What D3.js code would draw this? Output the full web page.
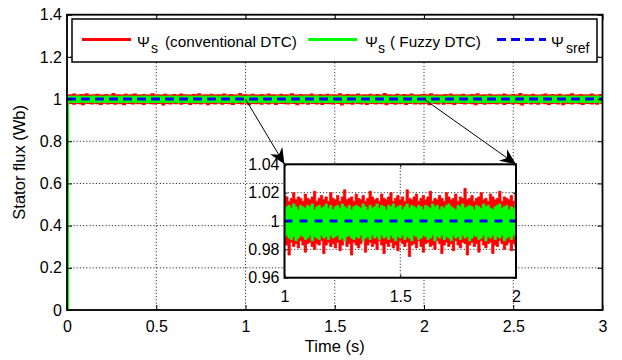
<!DOCTYPE html>
<html>
<head>
<meta charset="utf-8">
<script src="https://cdn.jsdelivr.net/npm/d3@7"></script>
<style>
  html, body { margin: 0; padding: 0; background: #fff; }
  svg { display: block; }
  text { font-family: "Liberation Sans", Arial, Helvetica, sans-serif; fill: #000; }
</style>
</head>
<body>
<svg id="chart" width="622" height="360"></svg>
<script>
// Stator flux, sampled every 10 ms from t = 0 s to t = 3 s (envelopes of the ripple band)
const sampleStep = 0.01;

// Conventional DTC: upper / lower envelope of the flux ripple (Wb)
const redHi = [0,
1.016,1.018,1.014,1.021,1.015,1.017,1.013,1.019,1.016,1.015,1.022,1.014,1.017,1.016,1.018,1.015,1.020,1.014,1.016,1.017,
1.015,1.019,1.016,1.014,1.017,1.023,1.015,1.016,1.018,1.014,1.017,1.015,1.020,1.016,1.014,1.018,1.016,1.021,1.015,1.017,
1.014,1.016,1.019,1.015,1.017,1.016,1.014,1.022,1.016,1.015,1.018,1.017,1.014,1.016,1.020,1.015,1.017,1.016,1.014,1.019,
1.016,1.015,1.017,1.021,1.014,1.016,1.018,1.015,1.017,1.014,1.019,1.016,1.015,1.022,1.017,1.015,1.016,1.018,1.014,1.017,
1.020,1.015,1.016,1.014,1.018,1.016,1.015,1.021,1.017,1.014,1.016,1.019,1.015,1.017,1.016,1.014,1.023,1.016,1.015,1.018,
1.017,1.014,1.016,1.020,1.015,1.017,1.016,1.014,1.019,1.016,1.015,1.017,1.021,1.014,1.016,1.018,1.015,1.017,1.014,1.020,
1.016,1.015,1.018,1.014,1.017,1.022,1.015,1.016,1.017,1.014,1.019,1.016,1.015,1.018,1.014,1.016,1.021,1.017,1.015,1.016,
1.014,1.019,1.016,1.015,1.017,1.020,1.014,1.016,1.018,1.015,1.017,1.014,1.022,1.016,1.015,1.017,1.019,1.014,1.016,1.018,
1.015,1.017,1.021,1.014,1.016,1.015,1.018,1.016,1.014,1.020,1.017,1.015,1.016,1.019,1.014,1.017,1.016,1.023,1.015,1.016,
1.018,1.014,1.016,1.017,1.020,1.015,1.016,1.014,1.019,1.017,1.015,1.016,1.021,1.014,1.017,1.016,1.015,1.018,1.014,1.020,
1.016,1.015,1.017,1.022,1.014,1.016,1.018,1.015,1.017,1.014,1.016,1.019,1.015,1.017,1.021,1.014,1.016,1.015,1.018,1.016,
1.014,1.020,1.016,1.015,1.017,1.014,1.019,1.016,1.015,1.022,1.017,1.014,1.016,1.018,1.015,1.016,1.020,1.014,1.017,1.016,
1.015,1.018,1.014,1.016,1.021,1.015,1.017,1.016,1.014,1.019,1.016,1.015,1.017,1.023,1.014,1.016,1.018,1.015,1.017,1.014,
1.020,1.016,1.015,1.017,1.014,1.018,1.016,1.021,1.015,1.016,1.014,1.019,1.017,1.015,1.016,1.020,1.014,1.017,1.016,1.015,
1.018,1.014,1.022,1.016,1.015,1.017,1.014,1.019,1.016,1.015,1.018,1.014,1.017,1.021,1.016,1.015,1.017,1.014,1.019,1.016];

const redLo = [0,
0.984,0.982,0.986,0.978,0.983,0.985,0.981,0.984,0.976,0.983,0.985,0.982,0.984,0.979,0.986,0.983,0.981,0.984,0.977,0.985,
0.983,0.985,0.980,0.984,0.982,0.986,0.978,0.983,0.985,0.981,0.984,0.976,0.983,0.985,0.982,0.984,0.979,0.986,0.983,0.981,
0.985,0.982,0.977,0.984,0.983,0.986,0.981,0.984,0.979,0.985,0.982,0.984,0.983,0.975,0.985,0.982,0.984,0.980,0.986,0.983,
0.981,0.984,0.985,0.978,0.983,0.982,0.986,0.984,0.977,0.983,0.985,0.981,0.984,0.982,0.979,0.986,0.983,0.984,0.976,0.985,
0.982,0.984,0.980,0.985,0.983,0.986,0.978,0.984,0.982,0.985,0.981,0.983,0.977,0.984,0.986,0.982,0.983,0.979,0.985,0.984,
0.983,0.976,0.985,0.982,0.984,0.981,0.986,0.983,0.978,0.984,0.985,0.982,0.980,0.984,0.983,0.986,0.977,0.983,0.985,0.982,
0.984,0.981,0.985,0.979,0.983,0.986,0.982,0.984,0.976,0.985,0.983,0.981,0.984,0.986,0.978,0.983,0.985,0.982,0.984,0.980,
0.986,0.983,0.977,0.984,0.982,0.985,0.981,0.983,0.979,0.986,0.984,0.982,0.985,0.975,0.983,0.984,0.981,0.986,0.982,0.978,
0.984,0.985,0.982,0.983,0.980,0.986,0.984,0.977,0.983,0.985,0.982,0.984,0.979,0.986,0.983,0.981,0.985,0.984,0.976,0.983,
0.985,0.982,0.984,0.978,0.986,0.983,0.981,0.984,0.985,0.977,0.983,0.982,0.986,0.984,0.980,0.983,0.985,0.979,0.984,0.982,
0.986,0.983,0.976,0.984,0.985,0.982,0.983,0.980,0.986,0.984,0.978,0.983,0.985,0.981,0.984,0.982,0.977,0.986,0.983,0.985,
0.982,0.984,0.979,0.985,0.983,0.986,0.981,0.984,0.976,0.983,0.985,0.982,0.984,0.978,0.986,0.983,0.981,0.985,0.982,0.984,
0.980,0.986,0.983,0.985,0.977,0.984,0.982,0.983,0.986,0.979,0.984,0.985,0.981,0.983,0.975,0.985,0.982,0.984,0.986,0.980,
0.983,0.985,0.982,0.978,0.984,0.986,0.983,0.981,0.985,0.977,0.984,0.982,0.986,0.983,0.980,0.985,0.984,0.976,0.983,0.985,
0.982,0.984,0.979,0.986,0.983,0.985,0.981,0.984,0.977,0.983,0.986,0.982,0.984,0.980,0.985,0.983,0.978,0.986,0.984,0.982];

// Fuzzy DTC: upper / lower envelope of the flux ripple (Wb)
const greenHi = [0,
1.010,1.009,1.011,1.008,1.010,1.012,1.009,1.010,1.011,1.009,1.008,1.011,1.010,1.009,1.012,1.010,1.008,1.011,1.009,1.010,
1.011,1.009,1.010,1.012,1.008,1.010,1.011,1.009,1.010,1.008,1.011,1.010,1.009,1.012,1.010,1.009,1.011,1.008,1.010,1.011,
1.009,1.010,1.012,1.009,1.011,1.008,1.010,1.011,1.009,1.010,1.012,1.008,1.010,1.011,1.009,1.010,1.008,1.012,1.010,1.009,
1.011,1.010,1.008,1.011,1.009,1.010,1.012,1.009,1.011,1.010,1.008,1.010,1.011,1.009,1.012,1.010,1.009,1.011,1.008,1.010,
1.012,1.009,1.010,1.011,1.008,1.010,1.009,1.011,1.012,1.010,1.009,1.008,1.011,1.010,1.009,1.012,1.010,1.011,1.009,1.008,
1.010,1.011,1.009,1.012,1.010,1.008,1.011,1.010,1.009,1.011,1.010,1.012,1.008,1.010,1.011,1.009,1.010,1.012,1.009,1.011,
1.008,1.010,1.011,1.009,1.012,1.010,1.009,1.011,1.008,1.010,1.011,1.010,1.009,1.012,1.010,1.008,1.011,1.009,1.010,1.012,
1.009,1.011,1.010,1.008,1.011,1.010,1.012,1.009,1.010,1.011,1.008,1.010,1.012,1.009,1.011,1.010,1.009,1.011,1.010,1.008,
1.011,1.010,1.009,1.012,1.010,1.011,1.008,1.010,1.009,1.011,1.012,1.010,1.009,1.008,1.011,1.010,1.012,1.009,1.010,1.011,
1.010,1.008,1.011,1.010,1.009,1.012,1.010,1.011,1.009,1.008,1.010,1.011,1.012,1.009,1.010,1.011,1.008,1.010,1.009,1.012,
1.009,1.011,1.010,1.008,1.012,1.010,1.009,1.011,1.010,1.009,1.011,1.008,1.010,1.012,1.009,1.011,1.010,1.009,1.012,1.010,
1.011,1.009,1.010,1.012,1.008,1.011,1.010,1.009,1.011,1.012,1.010,1.009,1.008,1.011,1.010,1.012,1.009,1.010,1.011,1.008,
1.010,1.012,1.009,1.011,1.010,1.008,1.011,1.010,1.012,1.009,1.010,1.011,1.009,1.008,1.012,1.010,1.011,1.009,1.010,1.011,
1.008,1.010,1.011,1.009,1.012,1.010,1.009,1.011,1.010,1.008,1.011,1.012,1.010,1.009,1.011,1.010,1.008,1.012,1.010,1.009,
1.011,1.010,1.009,1.012,1.010,1.011,1.008,1.010,1.009,1.011,1.012,1.010,1.009,1.011,1.008,1.010,1.012,1.009,1.011,1.010];

const greenLo = [0,
0.989,0.988,0.990,0.987,0.989,0.988,0.986,0.989,0.990,0.988,0.987,0.989,0.988,0.990,0.987,0.989,0.988,0.986,0.989,0.988,
0.990,0.988,0.987,0.989,0.988,0.990,0.986,0.988,0.989,0.987,0.990,0.988,0.989,0.987,0.988,0.990,0.989,0.986,0.988,0.989,
0.987,0.989,0.988,0.990,0.987,0.988,0.989,0.986,0.990,0.988,0.987,0.989,0.988,0.990,0.986,0.989,0.988,0.987,0.990,0.988,
0.989,0.987,0.988,0.990,0.989,0.986,0.988,0.989,0.987,0.990,0.988,0.989,0.986,0.988,0.990,0.987,0.989,0.988,0.990,0.987,
0.988,0.990,0.989,0.987,0.988,0.989,0.990,0.986,0.988,0.989,0.987,0.990,0.988,0.989,0.987,0.988,0.990,0.989,0.986,0.988,
0.990,0.988,0.987,0.989,0.986,0.988,0.990,0.989,0.987,0.988,0.990,0.986,0.989,0.988,0.987,0.990,0.988,0.989,0.987,0.990,
0.988,0.989,0.990,0.987,0.988,0.986,0.989,0.990,0.988,0.987,0.989,0.988,0.990,0.986,0.988,0.989,0.987,0.990,0.988,0.989,
0.987,0.990,0.988,0.989,0.987,0.990,0.988,0.986,0.989,0.988,0.990,0.987,0.989,0.988,0.986,0.990,0.989,0.987,0.988,0.990,
0.989,0.987,0.988,0.990,0.986,0.989,0.988,0.990,0.987,0.989,0.988,0.986,0.990,0.988,0.989,0.987,0.990,0.988,0.989,0.986,
0.988,0.990,0.989,0.987,0.988,0.990,0.986,0.989,0.988,0.990,0.987,0.989,0.988,0.990,0.986,0.988,0.989,0.987,0.990,0.988,
0.990,0.987,0.989,0.988,0.986,0.990,0.988,0.989,0.987,0.988,0.990,0.989,0.986,0.988,0.990,0.987,0.989,0.988,0.990,0.987,
0.989,0.988,0.990,0.986,0.988,0.989,0.987,0.990,0.988,0.989,0.986,0.988,0.990,0.987,0.989,0.988,0.990,0.986,0.989,0.988,
0.987,0.989,0.988,0.990,0.987,0.988,0.990,0.989,0.986,0.988,0.989,0.990,0.987,0.988,0.990,0.986,0.989,0.988,0.987,0.990,
0.988,0.990,0.987,0.989,0.988,0.986,0.990,0.988,0.989,0.987,0.990,0.988,0.986,0.989,0.988,0.990,0.987,0.989,0.988,0.990,
0.989,0.987,0.990,0.988,0.986,0.989,0.988,0.990,0.987,0.989,0.988,0.990,0.986,0.988,0.989,0.987,0.990,0.988,0.989,0.987];

// Flux reference (Wb)
const fluxRef = 1;

// Axes ticks
const xTicks = [0, 0.5, 1, 1.5, 2, 2.5, 3];
const yTicks = [0, 0.2, 0.4, 0.6, 0.8, 1, 1.2, 1.4];
const zoomXTicks = [1, 1.5, 2];
const zoomYTicks = [0.96, 0.98, 1, 1.02, 1.04];
const zoomWindow = [1, 2];

// Legend entries: symbol subscript and text
const legendItems = [
  { sub: "s", text: "(conventional DTC)", color: "#ff0000", dash: null },
  { sub: "s", text: "( Fuzzy DTC)", color: "#00ff00", dash: null },
  { sub: "sref", text: "", color: "#0000ff", dash: "9,5" }
];

const COLORS = { conv: "#ff0000", fuzzy: "#00ff00", ref: "#0000ff" };
const FONT = 16;
const LEGEND_FONT = 15.3;

const samples = redHi.map((v, i) => ({
  t: i * sampleStep, rh: v, rl: redLo[i], gh: greenHi[i], gl: greenLo[i]
}));

const svg = d3.select("#chart");

// ---------- main axes ----------
const M = { left: 67, right: 602.5, top: 14.7, bottom: 310 };
const x = d3.scaleLinear().domain([0, 3]).range([M.left, M.right]);
const y = d3.scaleLinear().domain([0, 1.4]).range([M.bottom, M.top]);
const W = M.right - M.left, H = M.bottom - M.top;

const defs = svg.append("defs");
defs.append("clipPath").attr("id", "clipMain")
  .append("rect").attr("x", M.left).attr("y", M.top).attr("width", W).attr("height", H);

defs.append("marker").attr("id", "arrowHead")
  .attr("viewBox", "-16 -8 17 16").attr("refX", 0).attr("refY", 0)
  .attr("markerWidth", 17).attr("markerHeight", 16)
  .attr("markerUnits", "userSpaceOnUse").attr("orient", "auto")
  .append("path").attr("d", "M0,0 L-16,-7 L-11,0 L-16,7 Z").attr("fill", "#000");

function gridLines(g, xs, ys, xt, yt) {
  const [x0, x1] = xs.range(), [y0, y1] = ys.range();
  g.append("g").selectAll("line").data(xt).join("line")
    .attr("x1", d => xs(d)).attr("x2", d => xs(d)).attr("y1", y0).attr("y2", y1);
  g.append("g").selectAll("line").data(yt).join("line")
    .attr("y1", d => ys(d)).attr("y2", d => ys(d)).attr("x1", x0).attr("x2", x1);
  g.selectAll("line").attr("stroke", "#000").attr("stroke-width", 0.8)
    .attr("stroke-dasharray", "1.2,2");
}

function drawSignals(g, xs, ys, data, sw, refDash) {
  const areaConv = d3.area().curve(d3.curveStep)
    .x(d => xs(d.t)).y0(d => ys(d.rl)).y1(d => ys(d.rh));
  const areaFuzzy = d3.area().curve(d3.curveStep)
    .x(d => xs(d.t)).y0(d => ys(d.gl)).y1(d => ys(d.gh));
  g.append("path").datum(data).attr("d", areaConv)
    .attr("fill", COLORS.conv).attr("stroke", COLORS.conv).attr("stroke-width", sw);
  g.append("path").datum(data).attr("d", areaFuzzy)
    .attr("fill", COLORS.fuzzy).attr("stroke", COLORS.fuzzy).attr("stroke-width", sw);
  const dom = xs.domain();
  g.append("path").datum(dom).attr("d", d3.line().x(d => xs(d)).y(() => ys(fluxRef)))
    .attr("fill", "none").attr("stroke", COLORS.ref).attr("stroke-width", 3)
    .attr("stroke-dasharray", refDash);
}

function frameAndTicks(g, xs, ys, xt, yt, opts) {
  const [x0, x1] = xs.range(), [y0, y1] = ys.range();
  const tl = opts.tickLen;
  const fmt = d => String(d);
  const bottom = g.append("g").attr("transform", `translate(0,${y0})`)
    .call(d3.axisBottom(xs).tickValues(xt).tickSize(-tl).tickPadding(opts.xPad).tickFormat(fmt));
  const left = g.append("g").attr("transform", `translate(${x0},0)`)
    .call(d3.axisLeft(ys).tickValues(yt).tickSize(-tl).tickPadding(opts.yPad).tickFormat(fmt));
  const top = g.append("g").attr("transform", `translate(0,${y1})`)
    .call(d3.axisTop(xs).tickValues(xt).tickSize(-tl).tickFormat(""));
  const right = g.append("g").attr("transform", `translate(${x1},0)`)
    .call(d3.axisRight(ys).tickValues(yt).tickSize(-tl).tickFormat(""));
  [bottom, left, top, right].forEach(a => {
    a.select(".domain").remove();
    a.selectAll("line").attr("stroke", "#000").attr("stroke-width", 1);
    a.selectAll("text").attr("font-size", opts.fontSize)
      .attr("font-family", '"Liberation Sans", Arial, sans-serif').attr("fill", "#000");
  });
  g.append("rect").attr("x", x0).attr("y", y1).attr("width", x1 - x0).attr("height", y0 - y1)
    .attr("fill", "none").attr("stroke", "#000").attr("stroke-width", opts.frameW);
}

// grid
gridLines(svg.append("g"), x, y, xTicks, yTicks);

// signals
drawSignals(svg.append("g").attr("clip-path", "url(#clipMain)"), x, y, samples, 2.2, "9,5");

// frame, ticks, tick labels
frameAndTicks(svg.append("g"), x, y, xTicks, yTicks,
  { tickLen: 5, xPad: 11, yPad: 5, fontSize: FONT, frameW: 1.8 });

// axis titles
svg.append("text").attr("x", (M.left + M.right) / 2).attr("y", 351.5)
  .attr("text-anchor", "middle").attr("font-size", 16.5).text("Time (s)");
svg.append("text").attr("transform", `translate(24.5,${(M.top + M.bottom) / 2}) rotate(-90)`)
  .attr("text-anchor", "middle").attr("font-size", 16.5).text("Stator flux (Wb)");

// ---------- legend ----------
const leg = svg.append("g");
leg.append("rect").attr("x", 72).attr("y", 19).attr("width", 525).attr("height", 43)
  .attr("fill", "#fff").attr("stroke", "#000").attr("stroke-width", 1.5);
const legendLayout = [
  { lx: 82, sx: 137, subx: 151, tx: 165 },
  { lx: 308, sx: 365, subx: 378, tx: 390 },
  { lx: 497, sx: 551, subx: 566, tx: 0 }
];
legendItems.forEach((it, i) => {
  const L = legendLayout[i];
  leg.append("line").attr("x1", L.lx).attr("x2", L.lx + 49).attr("y1", 39.5).attr("y2", 39.5)
    .attr("stroke", it.color).attr("stroke-width", 3)
    .attr("stroke-dasharray", it.dash);
  const t = leg.append("text").attr("y", 46.5).attr("font-size", LEGEND_FONT);
  t.append("tspan").attr("x", L.sx).text("\u03A8");
  t.append("tspan").attr("x", L.subx).attr("y", 53).attr("font-size", 14).text(it.sub);
  if (it.text) t.append("tspan").attr("x", L.tx).attr("y", 46.5).text(it.text);
});

// ---------- zoomed inset ----------
const Z = { left: 284.5, right: 516, top: 164.3, bottom: 277.7 };
const zx = d3.scaleLinear().domain(zoomWindow).range([Z.left, Z.right]);
const zy = d3.scaleLinear().domain([0.96, 1.04]).range([Z.bottom, Z.top]);
defs.append("clipPath").attr("id", "clipZoom")
  .append("rect").attr("x", Z.left).attr("y", Z.top)
  .attr("width", Z.right - Z.left).attr("height", Z.bottom - Z.top);

const inset = svg.append("g");
inset.append("rect").attr("x", Z.left).attr("y", Z.top)
  .attr("width", Z.right - Z.left).attr("height", Z.bottom - Z.top).attr("fill", "#fff");
gridLines(inset.append("g"), zx, zy, zoomXTicks, zoomYTicks);
const zoomSamples = samples.filter(d => d.t >= zoomWindow[0] - sampleStep && d.t <= zoomWindow[1] + sampleStep);
drawSignals(inset.append("g").attr("clip-path", "url(#clipZoom)"), zx, zy, zoomSamples, 0.8, "8,7");
frameAndTicks(inset.append("g"), zx, zy, zoomXTicks, zoomYTicks,
  { tickLen: 3, xPad: 13, yPad: 5, fontSize: FONT, frameW: 2 });

// ---------- arrows from the main trace to the inset corners ----------
const arrows = [
  { from: [zoomWindow[0], fluxRef], to: [Z.left, Z.top] },
  { from: [zoomWindow[1], fluxRef], to: [Z.right, Z.top] }
];
svg.append("g").selectAll("line").data(arrows).join("line")
  .attr("x1", d => x(d.from[0])).attr("y1", d => y(d.from[1]))
  .attr("x2", d => d.to[0]).attr("y2", d => d.to[1])
  .attr("stroke", "#000").attr("stroke-width", 1)
  .attr("marker-end", "url(#arrowHead)");
</script>
</body>
</html>
